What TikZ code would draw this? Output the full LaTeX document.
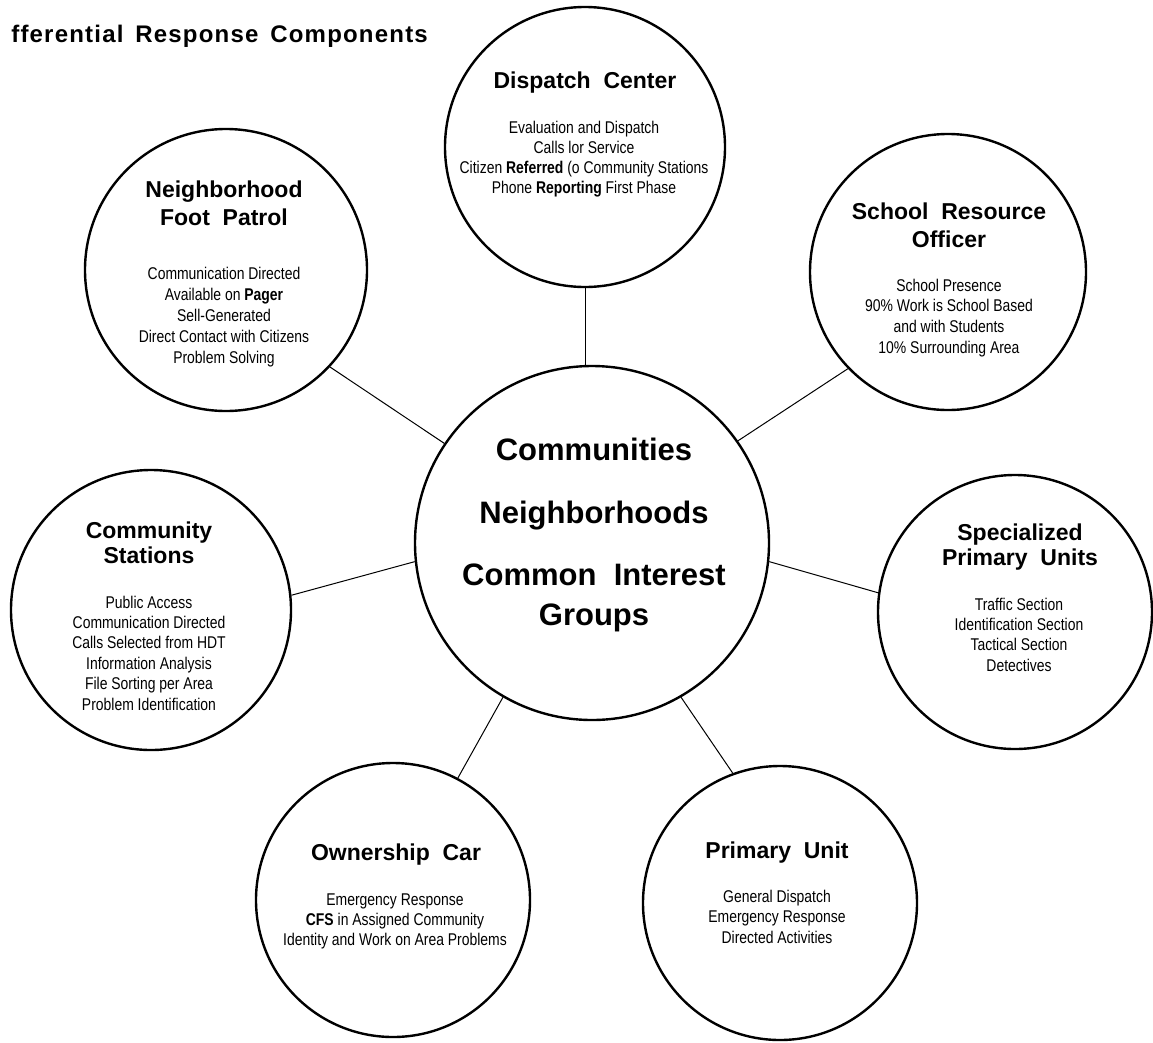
\documentclass[tikz,border=0pt]{standalone}
\usepackage{fontspec}
\setmainfont{Liberation Sans}
\newfontfamily\narrowfont[FakeStretch=0.82]{Liberation Sans}
\newfontfamily\titlefont[LetterSpace=5]{Liberation Sans}
\begin{document}
\begin{tikzpicture}[x=1pt,y=-1pt,
  bub/.style={circle, draw, line width=2.4pt, inner sep=0pt},
  hd/.style={font=\bfseries\fontsize{23}{28}\selectfont, align=center, anchor=base, inner sep=0pt},
  bd/.style={font=\narrowfont\fontsize{17}{20.4}\selectfont, align=center, anchor=base, inner sep=0pt},
  link/.style={line width=1pt}]
\useasboundingbox (0,0) rectangle (1153,1042);
\fill[white] (0,0) rectangle (1153,1042);

\node[anchor=base east, inner sep=0pt, font=\titlefont\bfseries\fontsize{24}{28}\selectfont] (title) at (428,42) {fferential\ \,Response\ \,Components};

% circles
\node[bub, minimum size=354pt] (cen) at (592,543) {};
\node[bub, minimum size=280pt] (disp) at (585,147) {};
\node[bub, minimum size=282pt] (nfp) at (226,270) {};
\node[bub, minimum size=276pt] (sro) at (948,272) {};
\node[bub, minimum size=280pt] (cs) at (151,610) {};
\node[bub, minimum size=274pt] (spu) at (1015,612) {};
\node[bub, minimum size=274pt] (oc) at (393,900) {};
\node[bub, minimum size=274pt] (pu) at (780,903) {};

% connectors
\draw[link] (disp.south) -- (disp.south |- cen.north);
\draw[link] (nfp.-43.6) -- (cen.146.5);
\draw[link] (sro.224.4) -- (cen.35.3);
\draw[link] (cs.6.1) -- (cen.186.2);
\draw[link] (spu.172.9) -- (cen.-6.4);
\draw[link] (oc.62.2) -- (cen.240.7);
\draw[link] (pu.110.6) -- (cen.-60.7);

% central text (base = last line)
\node[anchor=base, inner sep=0pt, align=center, font=\bfseries\fontsize{31}{40}\selectfont] (cenT) at (594,625)
  {Communities\\[23pt]Neighborhoods\\[22pt]Common\ \ Interest\\Groups};

% dispatch
\node[hd] (dispH) at (585,88) {Dispatch\ \ Center};
\node[bd, font=\narrowfont\fontsize{17}{20}\selectfont] (dispB) at (584,193) {Evaluation and Dispatch\\Calls lor Service\\Citizen \textbf{Referred} (o Community Stations\\Phone \textbf{Reporting} First Phase};

% neighborhood foot patrol
\node[hd] (nfpH) at (224,225) {Neighborhood\\Foot\ \ Patrol};
\node[bd, font=\narrowfont\fontsize{17}{21}\selectfont] (nfpB) at (224,363) {Communication Directed\\Available on \textbf{Pager}\\Sell-Generated\\Direct Contact with Citizens\\Problem Solving};

% school resource officer
\node[hd] (sroH) at (949,247) {School\ \ Resource\\Officer};
\node[bd, font=\narrowfont\fontsize{17}{20.6}\selectfont] (sroB) at (949,353) {School Presence\\90\% Work is School Based\\and with Students\\10\% Surrounding Area};

% community stations
\node[hd, font=\bfseries\fontsize{23}{25}\selectfont] (csH) at (149,563) {Community\\Stations};
\node[bd] (csB) at (149,710) {Public Access\\Communication Directed\\Calls Selected from HDT\\Information Analysis\\File Sorting per Area\\Problem Identification};

% specialized primary units
\node[hd, font=\bfseries\fontsize{23}{25}\selectfont] (spuH) at (1020,565) {Specialized\\Primary\ \ Units};
\node[bd, font=\narrowfont\fontsize{17}{20.3}\selectfont] (spuB) at (1019,671) {Traffic Section\\Identification Section\\Tactical Section\\Detectives};

% ownership car
\node[hd] (ocH) at (396,860) {Ownership\ \ Car};
\node[bd, font=\narrowfont\fontsize{17}{20}\selectfont] (ocB) at (395,945) {Emergency Response\\\textbf{CFS} in Assigned Community\\Identity and Work on Area Problems};

% primary unit
\node[hd] (puH) at (777,858) {Primary\ \ Unit};
\node[bd, font=\narrowfont\fontsize{17}{20.5}\selectfont] (puB) at (777,943) {General Dispatch\\Emergency Response\\Directed Activities};
\end{tikzpicture}
\end{document}
